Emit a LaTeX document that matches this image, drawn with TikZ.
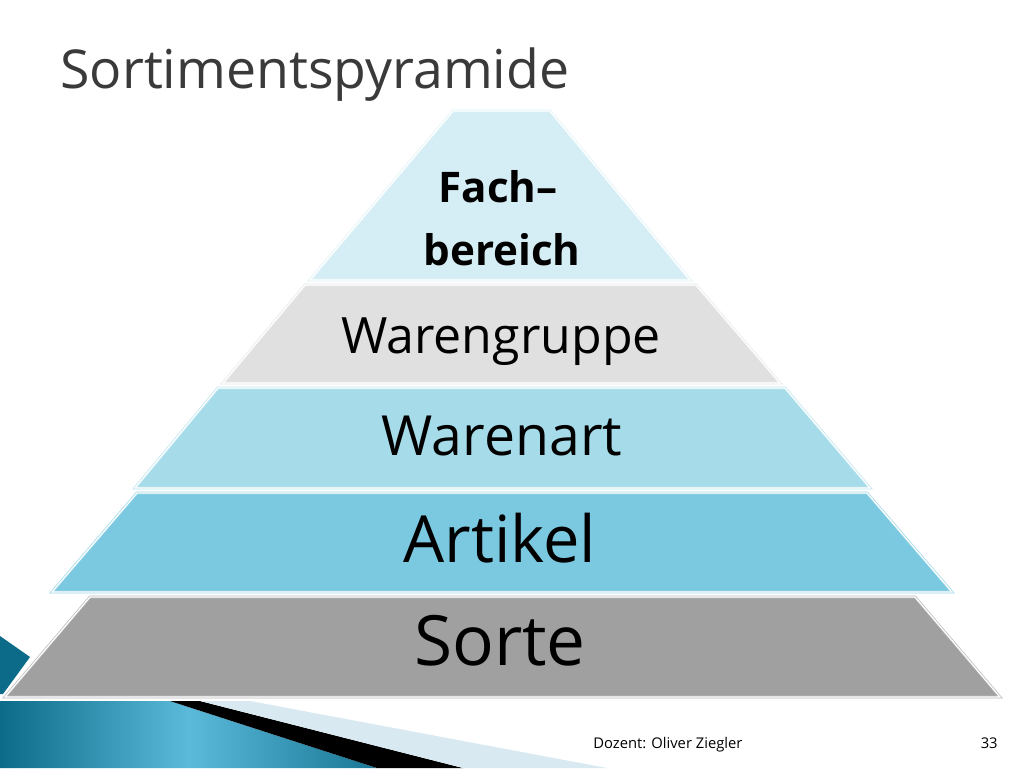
\documentclass[tikz,border=0pt]{standalone}
\usepackage{fontspec}
\setmainfont{Open Sans}
\usetikzlibrary{calc}

\definecolor{fachblue}{HTML}{D5EDF4}
\definecolor{grpgray}{HTML}{E0E0E0}
\definecolor{artblue}{HTML}{A6DCEA}
\definecolor{artikelblue}{HTML}{7BC9E0}
\definecolor{sortegray}{HTML}{A0A0A0}
\definecolor{tealdark}{HTML}{0C6B88}
\definecolor{tealmid}{HTML}{5BB9DA}
\definecolor{bandlight}{HTML}{D8E9F1}
\definecolor{titlegray}{HTML}{3A3A3A}

\tikzset{
	layer/.style={fill=#1, draw=#1!75!white, double=white, double distance=0.7pt, line width=0.4pt, line join=miter},
	label/.style={anchor=base, inner sep=0pt, text=black},
}

\begin{document}
\begin{tikzpicture}[x=0.02cm, y=-0.02cm]
	\useasboundingbox[fill=white] (0,0) rectangle (1024,768);
	% corner decoration
	\fill[tealdark] (0,636)--(30,657)--(3,694)--(0,694)--cycle;
	\shade[left color=tealdark, right color=tealdark!85!tealmid, middle color=tealmid] (0,701)--(170,701)--(377,768)--(0,768)--cycle;
	\fill[black] (170,701)--(200,701)--(463,768)--(377,768)--cycle;
	\fill[bandlight] (200,701)--(250,701)--(607,768)--(463,768)--cycle;
	%
	\draw[layer=fachblue] (453,111)--(550,111)--(690,280)--(310,280)--cycle;
	\draw[layer=grpgray] (305,285)--(696,285)--(780,383)--(223,383)--cycle;
	\draw[layer=artblue] (218,388)--(785,388)--(870,488)--(135,488)--cycle;
	\draw[layer=artikelblue] (137,493)--(867,493)--(952,592)--(52,592)--cycle;
	\draw[layer=sortegray] (90,597)--(915,597)--(1000,697)--(5,697)--cycle;
	%
	\node[label, font=\bfseries\fontsize{24}{28}\selectfont] (fach) at (498,202) {Fach–};
	\node[label, font=\bfseries\fontsize{24}{28}\selectfont] (bereich) at (502,265) {bereich};
	\node[label, font=\fontsize{28.5}{32}\selectfont] (gruppe) at (501,353) {Warengruppe};
	\node[label, font=\fontsize{31.5}{36}\selectfont] (warenart) at (502,455) {Warenart};
	\node[label, font=\fontsize{37}{42}\selectfont] (artikel) at (500,562) {Artikel};
	\node[label, font=\fontsize{39.5}{44}\selectfont] (sorte) at (500,665) {Sorte};
	%
	\node[anchor=base west, inner sep=0pt, text=titlegray, font=\fontsize{30.5}{34}\selectfont] (title) at (60,88) {Sortimentspyramide};
	\node[anchor=base west, inner sep=0pt, font=\fontsize{8.4}{10}\selectfont] (dozent) at (593,748) {Dozent: Oliver Ziegler};
	\node[anchor=base east, inner sep=0pt, font=\fontsize{8.4}{10}\selectfont] (page) at (998,748) {33};
\end{tikzpicture}
\end{document}
